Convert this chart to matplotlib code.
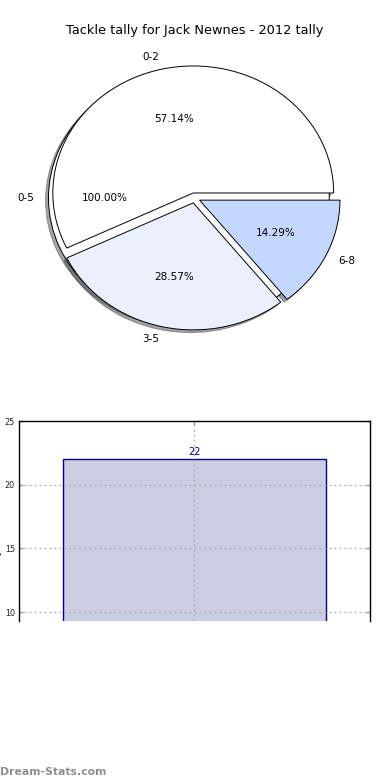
import matplotlib
matplotlib.use('Agg')
import matplotlib.pyplot as plt

# pie data
all_label = ['0-5']
all_value = [1]
range_labels = ['0-2', '3-5', '6-8']
range_values = [4, 2, 1]
range_colors = ['#ffffff', '#eaf0fd', '#c4d8ff']

# bar data
years = ['2012']
tallies = [22]

title = 'Tackle tally for Jack Newnes - 2012 tally'

fig = plt.figure(figsize=(3.9, 7.8), dpi=100)

# pie chart (stretched, not round)
ax = fig.add_axes([0.0487, 0.5427, 0.9, 0.4071])
wedge_style = {'edgecolor': 'black', 'linewidth': 0.7}
shadow_style = {'ox': -0.015, 'oy': -0.015}
ax.pie(all_value, labels=all_label, colors=['#ffffff'], explode=[0.04],
       autopct='%1.2f%%', shadow=shadow_style, wedgeprops=wedge_style,
       textprops={'fontsize': 7.5})
ax.pie(range_values, labels=range_labels, colors=range_colors,
       explode=[0.04] * len(range_values), autopct='%1.2f%%',
       shadow=shadow_style, wedgeprops=wedge_style,
       textprops={'fontsize': 7.5})
ax.set_aspect('auto')
ax.set_xlim(-1.25, 1.25)
ax.set_ylim(-1.25, 1.25)
ax.set_title(title, fontsize=9.3, pad=4)

# bar chart (bottom part cut off like the reference)
ax2 = fig.add_axes([0.0487, 0.2038, 0.9, 0.2564])
xs = list(range(len(years)))
bars = ax2.bar(xs, tallies, width=0.75, color='#ccccE3', edgecolor='navy',
               linewidth=1)
for x, v in zip(xs, tallies):
    ax2.annotate(str(v), (x, v), xytext=(0, 1.5), textcoords='offset points',
                 ha='center', va='bottom', color='navy', fontsize=7)
ax2.set_xlim(-0.5, len(years) - 0.5)
ax2.set_ylim(9.3, 25)
ax2.set_yticks([10, 15, 20, 25])
ax2.set_xticks(xs)
ax2.set_xticklabels(years)
ax2.grid(True, linestyle=(0, (1.5, 2.5)), color='#aaaaaa', linewidth=0.9)
ax2.set_axisbelow(False)
ax2.tick_params(direction='in', length=3, width=1, color='#999999',
                labelsize=5.8, labelcolor='#222222', top=True, right=True,
                bottom=False, labelbottom=False, pad=3)
ax2.spines['bottom'].set_visible(False)
for s in ['top', 'left', 'right']:
    ax2.spines[s].set_linewidth(1)
    ax2.spines[s].set_zorder(3)
ax2.set_ylabel('Tackle Tally', fontsize=7)
ax2.yaxis.set_label_coords(-0.047, 0.22)

fig.text(0.0, 0.004, 'Dream-Stats.com', color='#8f8f8f', fontsize=7.8,
         fontweight='semibold', ha='left', va='bottom')

fig.savefig('out.png', dpi=100)
